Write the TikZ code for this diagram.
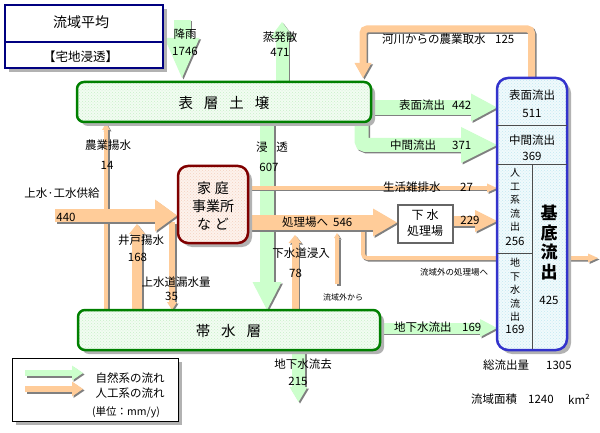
\documentclass[tikz,border=0pt]{standalone}
\usepackage{fontspec}
\setmainfont{Noto Sans CJK JP}
\usetikzlibrary{shadows,patterns}
\definecolor{natG}{HTML}{CCFFCC}
\definecolor{artO}{HTML}{FFCC99}
\definecolor{shd}{HTML}{808080}
\definecolor{soilG}{HTML}{008000}
\definecolor{outB}{HTML}{3333CC}
\definecolor{homeR}{HTML}{800000}
\definecolor{navyB}{HTML}{000080}
\definecolor{soilF}{HTML}{F2FCF2}
\definecolor{outF}{HTML}{F0FAFC}
\definecolor{homeF}{HTML}{FDF2EC}
\definecolor{soilD}{HTML}{C8F0C8}
\definecolor{outD}{HTML}{C4E8F2}
\definecolor{homeD}{HTML}{F4D2C0}
% #1 colour, #2 shaft width, #3 head width, #4 head length, #5 angle, #6 shaft path, #7 head base
\newcommand\flow[7]{%
  \begin{scope}[xshift=1.5pt,yshift=-1.5pt]
    \draw[shd,line width=#2pt,rounded corners=4pt] #6;
    \fill[shd,shift={#7},rotate=#5] (0,-#3/2) -- (#4,0) -- (0,#3/2) -- cycle;
  \end{scope}
  \draw[#1,line width=#2pt,rounded corners=4pt] #6;
  \fill[#1,shift={#7},rotate=#5] (0,-#3/2) -- (#4,0) -- (0,#3/2) -- cycle;
}
\tikzset{
  shadowbox/.style={drop shadow={shadow xshift=4pt,shadow yshift=-4pt,fill=black!30,opacity=1}},
  soilbox/.style={shadowbox,preaction={fill=soilF},preaction={pattern=crosshatch dots,pattern color=soilD},draw=soilG,line width=2.5pt,rounded corners=7pt,inner sep=0pt},
  outbox/.style={shadowbox,preaction={fill=outF},preaction={pattern=crosshatch dots,pattern color=outD},draw=outB,line width=2.5pt,rounded corners=11pt,inner sep=0pt},
  homebox/.style={shadowbox,preaction={fill=homeF},preaction={pattern=crosshatch dots,pattern color=homeD},draw=homeR,line width=2.5pt,rounded corners=10pt,inner sep=0pt},
  stpbox/.style={draw=black!60,line width=1.5pt,fill=white,inner sep=0pt},
  titlebox/.style={shadowbox,draw=navyB,line width=2pt,fill=white,inner sep=0pt},
  legbox/.style={shadowbox,draw=black,line width=1pt,fill=white,inner sep=0pt},
  lbl/.style={inner sep=0pt,font=\fontsize{11.5}{13}\selectfont},
  smalllbl/.style={inner sep=0pt,font=\fontsize{8.5}{10}\selectfont},
  divline/.style={draw=black!70,line width=0.8pt},
}
\begin{document}
\begin{tikzpicture}[x=1pt,y=-1pt]
\useasboundingbox (0,0) rectangle (600,433);
\fill[white] (0,0) rectangle (600,433);

% ---- flows ----
\flow{natG}{17}{35}{40}{-90}{(182,20) -- (182,38)}{(182,38)}
\flow{natG}{13}{24}{16}{90}{(282,84) -- (282,38)}{(282,38)}
\flow{natG}{14}{29}{28}{-90}{(267,118) -- (267,282)}{(267,282)}
\flow{natG}{14}{36}{36}{0}{(361.5,118) -- (361.5,145) -- (461,145)}{(461,145)}
\flow{natG}{15}{28}{26}{0}{(365,107.5) -- (471,107.5)}{(471,107.5)}
\flow{natG}{11}{18}{17}{0}{(375,328) -- (480,328)}{(480,328)}
\flow{natG}{13}{18}{15}{-90}{(298.5,345) -- (298.5,387)}{(298.5,387)}
\flow{artO}{4}{8}{7}{90}{(106,312) -- (106,130)}{(106,130)}
\flow{artO}{6}{10}{8}{-90}{(172,222) -- (172,302)}{(172,302)}
\flow{artO}{4}{9}{10}{0}{(363,228) -- (363,258) -- (588,258)}{(588,258)}
\flow{artO}{4}{6}{5}{90}{(337,284) -- (337,238)}{(337,238)}
\flow{artO}{7}{13}{8}{90}{(295,312) -- (295,243)}{(295,243)}
\flow{artO}{10}{16}{10}{90}{(137,312) -- (137,234)}{(137,234)}
\flow{artO}{13}{32}{22}{0}{(55,215.5) -- (155,215.5)}{(155,215.5)}
\flow{artO}{4}{9}{10}{0}{(245,188) -- (487,188)}{(487,188)}
\flow{artO}{15}{28}{24}{0}{(245,222.5) -- (373,222.5)}{(373,222.5)}
\flow{artO}{10}{22}{22}{0}{(450,221) -- (475,221)}{(475,221)}
\flow{artO}{7}{17}{15}{-90}{(531.5,80) -- (531.5,29) -- (363,29) -- (363,63)}{(363,63)}

% ---- boxes ----
\node[titlebox,minimum width=158pt,minimum height=63pt] (ttl) at (84,36.5) {};
\draw[navyB,line width=2pt] (5,42) -- (163,42);
\node[soilbox,minimum width=294pt,minimum height=40pt] (soil) at (224,102) {};
\node[soilbox,minimum width=302pt,minimum height=40pt] (aq) at (229,330) {};
\node[outbox,minimum width=70pt,minimum height=272pt] (out) at (532,214) {};
\node[homebox,minimum width=70pt,minimum height=77pt] (home) at (213,204.5) {};
\node[stpbox,minimum width=55pt,minimum height=38pt] (stp) at (425.5,224) {};
\node[legbox,minimum width=166pt,minimum height=63pt] (leg) at (95,389.5) {};

\draw[divline] (497,125) -- (567,125);
\draw[divline] (497,164) -- (567,164);
\draw[divline] (532,164) -- (532,349);
\draw[divline] (497,253) -- (532,253);

\flow{natG}{6}{15}{11}{0}{(25,373) -- (72,373)}{(72,373)}
\flow{artO}{6}{15}{11}{0}{(25,389) -- (72,389)}{(72,389)}

% ---- texts ----
\node[inner sep=0pt,font=\fontsize{14}{16}\selectfont] (t1) at (81,22) {流域平均};
\node[inner sep=0pt,font=\fontsize{12.5}{15}\selectfont] (t2) at (80.5,57) {【宅地浸透】};
\node[inner sep=0pt,font=\fontsize{14.5}{16}\selectfont] (ts) at (224,103) {表\hspace{11pt}層\hspace{11pt}土\hspace{11pt}壌};
\node[inner sep=0pt,font=\fontsize{14.5}{16}\selectfont] (ta) at (228.5,331) {帯\hspace{11pt}水\hspace{11pt}層};
\node[inner sep=0pt,align=center,font=\fontsize{14}{18}\selectfont] (th) at (213,206) {家\hspace{4pt}庭\\事業所\\な\hspace{4pt}ど};
\node[inner sep=0pt,align=center,font=\fontsize{12}{15.5}\selectfont] (tp) at (425,223) {下\hspace{3pt}水\\処理場};

\node[lbl] (l1) at (185,34) {降雨};
\node[lbl] (l1n) at (185,51) {1746};
\node[lbl] (l2) at (280,37) {蒸発散};
\node[lbl] (l2n) at (280,52) {471};
\node[lbl,anchor=west] (l3) at (382,39) {河川からの農業取水};
\node[lbl,anchor=west] (l3n) at (495,39) {125};
\node[lbl,anchor=west] (l4) at (399,105) {表面流出};
\node[lbl,anchor=west] (l4n) at (452,105) {442};
\node[lbl,anchor=west] (l5) at (390,145) {中間流出};
\node[lbl,anchor=west] (l5n) at (452,145) {371};
\node[lbl,anchor=west] (l6) at (383,187) {生活雑排水};
\node[lbl,anchor=west] (l6n) at (460,187) {27};
\node[lbl,anchor=west] (l7) at (282,222) {処理場へ};
\node[lbl,anchor=west] (l7n) at (333,222) {546};
\node[lbl] (l8) at (470,220) {229};
\node[smalllbl] (l9) at (454,272) {流域外の処理場へ};
\node[inner sep=0pt,font=\fontsize{8}{10}\selectfont] (l10) at (343,297) {流域外から};
\node[lbl] (l11) at (301,253) {下水道浸入};
\node[lbl] (l11n) at (295.5,273) {78};
\node[lbl] (l12) at (108,145) {農業揚水};
\node[lbl] (l12n) at (107,165) {14};
\node[lbl] (l13) at (62,193) {上水·工水供給};
\node[lbl] (l13n) at (66,217) {440};
\node[lbl] (l14) at (141,240) {井戸揚水};
\node[lbl] (l14n) at (137.5,257) {168};
\node[lbl] (l15) at (176,282) {上水道漏水量};
\node[lbl] (l15n) at (171.5,296) {35};
\node[lbl] (l16) at (272,147) {浸\hspace{9pt}透};
\node[lbl] (l16n) at (269,167) {607};
\node[lbl,anchor=west] (l17) at (394,327) {地下水流出};
\node[lbl,anchor=west] (l17n) at (462,327) {169};
\node[lbl] (l18) at (303,364) {地下水流去};
\node[lbl] (l18n) at (298,381) {215};
\node[lbl,anchor=west] (l19) at (483,365) {総流出量};
\node[lbl,anchor=west] (l19n) at (546,365) {1305};
\node[lbl,anchor=west] (l20) at (471,399) {流域面積};
\node[lbl,anchor=west] (l20n) at (528,399) {1240};
\node[lbl,anchor=west] (l20u) at (568,399) {km²};

\node[lbl] (o1) at (532,95) {表面流出};
\node[lbl] (o1n) at (532,113) {511};
\node[lbl] (o2) at (532,140) {中間流出};
\node[lbl] (o2n) at (532,156) {369};
\node[inner sep=0pt,align=center,font=\fontsize{10}{13.5}\selectfont] (o3) at (515,200) {人\\工\\系\\流\\出};
\node[lbl] (o3n) at (515,241) {256};
\node[inner sep=0pt,align=center,font=\fontsize{10}{13.5}\selectfont] (o4) at (515,290) {地\\下\\水\\流\\出};
\node[lbl] (o4n) at (515,329) {169};
\node[inner sep=0pt,align=center,font=\bfseries\fontsize{17}{19.7}\selectfont] (o5) at (549,242.5) {基\\底\\流\\出};
\node[lbl] (o5n) at (549,300) {425};

\node[lbl] (g1) at (130,378) {自然系の流れ};
\node[lbl] (g2) at (130,393) {人工系の流れ};
\node[inner sep=0pt,font=\fontsize{10.5}{12}\selectfont] (g3) at (126,412) {(単位：mm/y)};
\end{tikzpicture}
\end{document}
